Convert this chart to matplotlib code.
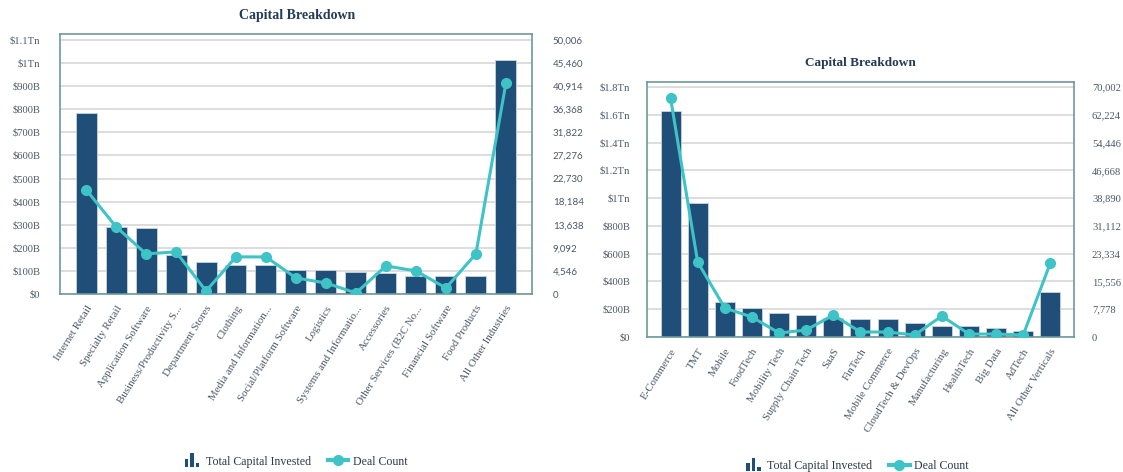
import numpy as np
import matplotlib
matplotlib.use('Agg')
import matplotlib.pyplot as plt
from matplotlib.patches import Rectangle
from matplotlib.lines import Line2D
from matplotlib.legend_handler import HandlerBase
from matplotlib.ticker import FuncFormatter, FixedLocator

plt.rcParams['font.family'] = ['Liberation Serif', 'DejaVu Serif']

# left chart: industries
ind_names = ['Internet Retail', 'Specialty Retail', 'Application Software',
             'Business/Productivity S...', 'Department Stores', 'Clothing',
             'Media and Information...', 'Social/Platform Software', 'Logistics',
             'Systems and Informatio...', 'Accessories', 'Other Services (B2C No...',
             'Financial Software', 'Food Products', 'All Other Industries']
ind_capital = [783, 292, 284, 170, 139, 126, 126, 104, 104, 96, 91, 79, 78, 78, 1013]  # $B
ind_deals = [20550, 13240, 7900, 8300, 600, 7310, 7310, 3160, 2170, 200, 5530,
             4546, 1190, 7900, 41500]
ind_ticks_cap = [0, 100, 200, 300, 400, 500, 600, 700, 800, 900, 1000, 1100]
ind_ticks_deal = [0, 4546, 9092, 13638, 18184, 22730, 27276, 31822, 36368,
                  40914, 45460, 50006]

# right chart: verticals
vert_names = ['E-Commerce', 'TMT', 'Mobile', 'FoodTech', 'Mobility Tech',
              'Supply Chain Tech', 'SaaS', 'FinTech', 'Mobile Commerce',
              'CloudTech & DevOps', 'Manufacturing', 'HealthTech', 'Big Data',
              'AdTech', 'All Other Verticals']
vert_capital = [1626, 964, 252, 209, 173, 162, 137, 129, 129, 101, 79, 77, 63, 45, 324]
vert_deals = [66870, 20980, 8110, 5600, 1120, 1960, 6150, 1400, 1400, 560,
              5870, 840, 840, 560, 20700]
vert_ticks_cap = [0, 200, 400, 600, 800, 1000, 1200, 1400, 1600, 1800]
vert_ticks_deal = [0, 7778, 15556, 23334, 31112, 38890, 46668, 54446, 62224, 70002]

BAR = '#1f4e79'
LINE = '#3ec3c6'
FRAME = '#6e9898'
GRID = '#dadada'
TXT = '#4a5866'
TITLE = '#233b55'


def cap_fmt(v, pos):
    if v == 0:
        return '$0'
    if v >= 1000:
        t = v / 1000
        return '$%gTn' % round(t, 1)
    return '$%dB' % v


class BarIcon(HandlerBase):
    # small "bar chart" glyph like the original legend
    def create_artists(self, legend, orig_handle, xdescent, ydescent,
                       width, height, fontsize, trans):
        arts = []
        bw = width * 0.17
        x0 = width * 0.2 - xdescent
        y0 = -ydescent - height * 0.3
        for i, h in enumerate([1.0, 1.65, 0.55]):
            r = Rectangle((x0 + i * bw * 1.55, y0), bw, height * h,
                          facecolor=BAR, edgecolor='none', transform=trans)
            arts.append(r)
        return arts


def draw(fig, rect, names, cap, deals, tcap, tdeal, ytop_cap, ytop_deal,
         rfont, rsize, bw, lpad, rpad):
    ax = fig.add_axes(rect)
    x = np.arange(len(names))
    ax.bar(x, cap, width=bw, color=BAR, edgecolor='#c8d4e0', linewidth=0.6,
           zorder=2)
    ax.set_xlim(-0.87, len(names) - 0.13)
    ax.set_ylim(0, ytop_cap)
    ax.yaxis.set_major_locator(FixedLocator(tcap))
    ax.yaxis.set_major_formatter(FuncFormatter(cap_fmt))
    ax.grid(axis='y', color=GRID, linewidth=1.3, zorder=0)
    ax.set_axisbelow(True)
    ax.set_xticks(x)
    ax.set_xticklabels(names, rotation=58, ha='right', va='top',
                       rotation_mode='anchor', fontsize=7.8, color=TXT)
    ax.tick_params(axis='x', length=0, pad=7)
    ax.tick_params(axis='y', length=0, pad=lpad, labelsize=7.6, labelcolor=TXT)
    for s in ax.spines.values():
        s.set_color(FRAME)
        s.set_linewidth(1.2)

    ax2 = ax.twinx()
    ax2.plot(x, deals, color=LINE, lw=2.2, marker='o', ms=7, zorder=3)
    ax2.set_ylim(0, ytop_deal)
    ax2.yaxis.set_major_locator(FixedLocator(tdeal))
    ax2.yaxis.set_major_formatter(FuncFormatter(lambda v, p: '{:,}'.format(int(v))))
    ax2.tick_params(axis='y', length=0, pad=rpad, labelcolor=TXT)
    for lab in ax2.get_yticklabels():
        lab.set_fontfamily(rfont)
        lab.set_fontsize(rsize)
    for s in ax2.spines.values():
        s.set_visible(False)
    return ax, ax2


fig = plt.figure(figsize=(11.23, 4.72), dpi=100)

axL, axL2 = draw(fig, [0.0534, 0.3771, 0.4203, 0.5508], ind_names, ind_capital,
                 ind_deals, ind_ticks_cap, ind_ticks_deal, 1126, 51190,
                 'Lato', 7, 0.7, 14, 15)
axR, axR2 = draw(fig, [0.5761, 0.286, 0.3802, 0.5403], vert_names, vert_capital,
                 vert_deals, vert_ticks_cap, vert_ticks_deal, 1836, 71400,
                 'Liberation Serif', 7.6, 0.74, 12, 13)

fig.text(0.2645, 0.967, 'Capital Breakdown', ha='center', va='center',
         fontsize=10, fontweight='bold', color=TITLE)
fig.text(0.766, 0.866, 'Capital Breakdown', ha='center', va='center',
         fontsize=9.5, fontweight='bold', color=TITLE)

bar_h = Rectangle((0, 0), 1, 1, color=BAR)
line_h = Line2D([], [], color=LINE, lw=3, marker='o', ms=7)
for cx, cy in [(0.262, 0.022), (0.762, 0.013)]:
    fig.legend([bar_h, line_h], ['Total Capital Invested', 'Deal Count'],
               loc='center', bbox_to_anchor=(cx, cy), ncol=2, frameon=False,
               fontsize=8.6, handler_map={Rectangle: BarIcon()},
               handlelength=1.7, columnspacing=1.4, handletextpad=0.4,
               labelcolor='#2b3a4a')

fig.savefig('out.png', dpi=100, facecolor='white')
